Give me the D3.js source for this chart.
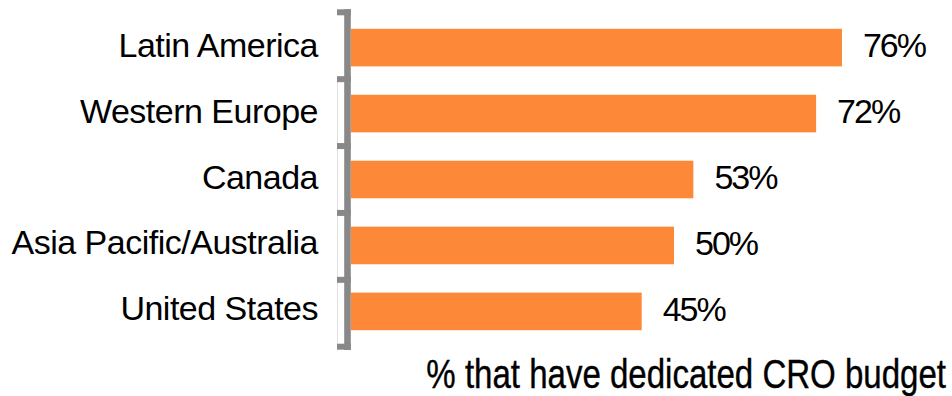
<!DOCTYPE html>
<html>
<head>
<meta charset="utf-8">
<script src="https://cdn.jsdelivr.net/npm/d3@7"></script>
<style>
  html, body { margin: 0; padding: 0; background: #fff; }
  svg { display: block; }
  text { font-family: "Liberation Sans", Arial, sans-serif; fill: #000; }
</style>
</head>
<body>
<svg id="chart" width="952" height="396"></svg>
<script>
// Share of organisations with a dedicated CRO budget, by region
const regions = ["Latin America", "Western Europe", "Canada", "Asia Pacific/Australia", "United States"];
const budgetShare = [76, 72, 53, 50, 45];
const axisTitle = "% that have dedicated CRO budget";

const svg = d3.select("#chart");

const axisX = 347.5;      // centre of the vertical axis rule
const barLeft = 351;      // bars start right of the rule

const x = d3.scaleLinear().domain([0, 100]).range([barLeft, barLeft + 646]);
const y = d3.scaleBand()
  .domain(regions)
  .range([12.3, 346.7])
  .paddingInner(0.43)
  .paddingOuter(0.25);

const rows = regions.map((r, i) => ({ region: r, value: budgetShare[i] }));

// Bars
svg.append("g").selectAll("rect")
  .data(rows)
  .join("rect")
  .attr("x", x(0))
  .attr("y", d => y(d.region))
  .attr("width", d => x(d.value) - x(0))
  .attr("height", y.bandwidth())
  .attr("fill", "#FD8938");

// Category axis: thick grey rule with ticks at every band boundary
const [r0, r1] = y.range();
const bounds = d3.range(regions.length + 1).map(i => r0 + i * (r1 - r0) / regions.length);

const axis = svg.append("g");
axis.append("line")
  .attr("x1", 337.5).attr("x2", 337.5)
  .attr("y1", bounds[1] + 3).attr("y2", bounds[bounds.length - 1] - 3)
  .attr("stroke", "#e2e2e2").attr("stroke-width", 1);
axis.append("line")
  .attr("x1", axisX).attr("x2", axisX)
  .attr("y1", bounds[0] - 3).attr("y2", bounds[bounds.length - 1] + 3.3)
  .attr("stroke", "#888888").attr("stroke-width", 6.6);
axis.selectAll("line.tick")
  .data(bounds)
  .join("line")
  .attr("class", "tick")
  .attr("x1", 337).attr("x2", axisX + 3.3)
  .attr("y1", d => d).attr("y2", d => d)
  .attr("stroke", "#888888").attr("stroke-width", 6);

// Category labels
svg.append("g").selectAll("text")
  .data(rows)
  .join("text")
  .attr("x", 318)
  .attr("y", d => y(d.region) + y.bandwidth() / 2 + 9)
  .attr("text-anchor", "end")
  .style("font-size", "34px")
  .style("letter-spacing", "-0.5px")
  .text(d => d.region);

// Value labels
svg.append("g").selectAll("text")
  .data(rows)
  .join("text")
  .attr("x", d => x(d.value) + 21)
  .attr("y", d => y(d.region) + y.bandwidth() / 2 + 9.5)
  .style("font-size", "34px")
  .style("letter-spacing", "-2px")
  .text(d => d.value + "%");

// Axis title, set in a condensed cut
svg.append("g")
  .attr("transform", "translate(946,387.5) scale(0.806,1)")
  .append("text")
  .attr("text-anchor", "end")
  .style("font-size", "41px")
  .style("stroke", "#000")
  .style("stroke-width", "0.4px")
  .text(axisTitle);
</script>
</body>
</html>
